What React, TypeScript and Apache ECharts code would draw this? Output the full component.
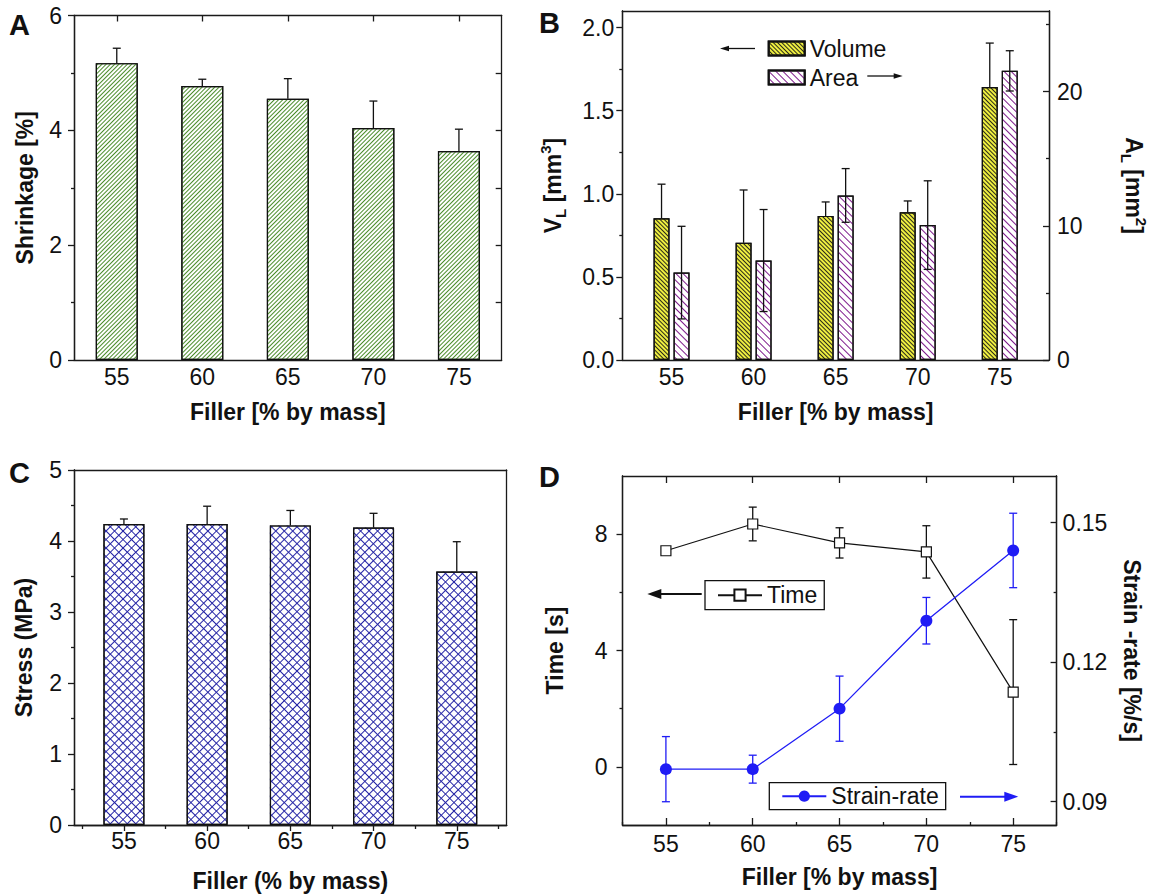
import React, { useEffect, useRef } from 'react';
import * as echarts from 'echarts';

// ---------- data ----------
const fillers = [55, 60, 65, 70, 75];
const shrinkage = [5.17, 4.77, 4.55, 4.04, 3.64];
const shrinkageErr = [0.26, 0.12, 0.35, 0.47, 0.38];
const volume = [0.853, 0.705, 0.867, 0.889, 1.643];
const volumeErr = [0.205, 0.318, 0.084, 0.068, 0.264];
const area = [6.51, 7.41, 12.26, 10.05, 21.54];
const areaErr = [3.45, 3.8, 2.0, 3.3, 1.5];
const stress = [4.24, 4.24, 4.22, 4.19, 3.57];
const stressErr = [0.07, 0.25, 0.21, 0.2, 0.42];
const time = [7.43, 8.35, 7.7, 7.39, 2.57];
const timeErr = [0.1, 0.58, 0.52, 0.9, 2.49];
const strainRate = [0.097, 0.097, 0.11, 0.1289, 0.144];
const strainErr = [0.007, 0.003, 0.007, 0.005, 0.008];

const minorX = [52.5, 57.5, 62.5, 67.5, 72.5, 77.5];
const ticksA = [0, 2, 4, 6];
const minorA = [1, 3, 5];
const rightA = [1, 2, 3, 4, 5];
const ticksBL = [0, 0.5, 1.0, 1.5, 2.0];
const minorBL = [0.25, 0.75, 1.25, 1.75];
const ticksBR = [0, 10, 20];
const minorBR = [5, 15, 25];
const ticksC = [0, 1, 2, 3, 4, 5];
const minorC = [0.5, 1.5, 2.5, 3.5, 4.5];
const ticksDL = [0, 4, 8];
const minorDL = [2, 6];
const ticksDR = [0.09, 0.12, 0.15];
const minorDR = [0.105, 0.135];

const AX = '#1a1a1a';
const FONT = "'Liberation Sans', Arial, sans-serif";
const LBL = 23;
const TITLE = 23;

type AxOpt = {
  grid: number; pos: string; min: number; max: number;
  ticks?: number[]; labels?: number[]; len?: number; inside?: boolean;
  fmt?: (v: number) => string; margin?: number; line?: boolean;
  name?: string; gap?: number; rotate?: number; rich?: any;
};

function axis(o: AxOpt): any {
  return {
    type: 'value', gridIndex: o.grid, position: o.pos, min: o.min, max: o.max,
    axisLine: { show: o.line !== false, onZero: false, lineStyle: { color: AX, width: 1.3 } },
    axisTick: { show: !!o.ticks, customValues: o.ticks, inside: !!o.inside, length: o.len ?? 6, lineStyle: { color: AX, width: 1.3 } },
    axisLabel: {
      show: !!o.labels, customValues: o.labels, formatter: o.fmt ?? ((v: number) => String(v)),
      fontSize: LBL, color: '#111', fontFamily: FONT, margin: o.margin ?? 8,
    },
    splitLine: { show: false }, minorTick: { show: false }, minorSplitLine: { show: false },
    name: o.name, nameLocation: 'middle', nameGap: o.gap, nameRotate: o.rotate,
    nameTextStyle: { fontSize: TITLE, fontWeight: 'bold', color: '#111', fontFamily: FONT, rich: o.rich },
  };
}

function errBars(id: string, xi: number, yi: number, vals: number[], errs: number[], both: boolean, color: string, offset: number, z: number): any {
  return {
    type: 'custom', name: id, xAxisIndex: xi, yAxisIndex: yi, z,
    data: fillers.map((f, i) => [f, both ? vals[i] - errs[i] : vals[i], vals[i] + errs[i]]),
    encode: { x: 0, y: [1, 2] },
    renderItem: (_p: any, api: any) => {
      const x = api.value(0);
      const lo = api.coord([x, api.value(1)]);
      const hi = api.coord([x, api.value(2)]);
      const cx = lo[0] + offset;
      const st = { stroke: color, lineWidth: 1.3 };
      const ch: any[] = [
        { type: 'line', shape: { x1: cx, y1: lo[1], x2: cx, y2: hi[1] }, style: st },
        { type: 'line', shape: { x1: cx - 4, y1: hi[1], x2: cx + 4, y2: hi[1] }, style: st },
      ];
      if (both) ch.push({ type: 'line', shape: { x1: cx - 4, y1: lo[1], x2: cx + 4, y2: lo[1] }, style: st });
      return { type: 'group', children: ch };
    },
  };
}

const hatch = (color: string, gap: number, rot: number, thick = 1) => ({
  symbol: 'rect', symbolSize: 1, dashArrayX: [1, 0], dashArrayY: [thick, gap], rotation: rot, color,
});

function arrow(x1: number, x2: number, y: number, color: string, w: number, hl: number, hw: number): any[] {
  // arrow head at x2
  const dir = x2 > x1 ? 1 : -1;
  return [
    { type: 'line', shape: { x1, y1: y, x2: x2 - dir * hl * 0.8, y2: y }, style: { stroke: color, lineWidth: w } },
    { type: 'polygon', shape: { points: [[x2, y], [x2 - dir * hl, y - hw], [x2 - dir * hl, y + hw]] }, style: { fill: color } },
  ];
}

export default function App() {
  const ref = useRef<HTMLDivElement>(null);
  useEffect(() => {
    document.body.style.margin = '0';
    const chart = echarts.init(ref.current!, null, { renderer: 'svg' });
    const grids = [
      { left: 74, top: 15.5, width: 427.7, height: 344.5 },
      { left: 622.3, top: 11, width: 426.7, height: 349 },
      { left: 74, top: 470, width: 432.7, height: 355 },
      { left: 622.5, top: 476, width: 434.1, height: 349 },
    ].map((g) => ({ ...g, outerBoundsMode: 'none', containLabel: false, show: false }));

    const xAxis = [
      // A
      axis({ grid: 0, pos: 'bottom', min: 52.5, max: 77.5, labels: fillers, margin: 5, name: 'Filler [% by mass]', gap: 40 }),
      axis({ grid: 0, pos: 'top', min: 52.5, max: 77.5, ticks: fillers, inside: true }),
      // B
      axis({ grid: 1, pos: 'bottom', min: 52, max: 78, labels: fillers, margin: 5, name: 'Filler [% by mass]', gap: 40 }),
      axis({ grid: 1, pos: 'top', min: 52, max: 78 }),
      // C
      axis({ grid: 2, pos: 'bottom', min: 52, max: 78, labels: fillers, ticks: fillers, len: 6, margin: 4, name: 'Filler (% by mass)', gap: 44 }),
      axis({ grid: 2, pos: 'top', min: 52, max: 78 }),
      axis({ grid: 2, pos: 'bottom', min: 52, max: 78, ticks: minorX, len: 4 }),
      // D
      axis({ grid: 3, pos: 'bottom', min: 52.5, max: 77.5, labels: fillers, ticks: fillers, inside: true, len: 7, margin: 7, name: 'Filler [% by mass]', gap: 40 }),
      axis({ grid: 3, pos: 'top', min: 52.5, max: 77.5, ticks: fillers, inside: true, len: 7 }),
      axis({ grid: 3, pos: 'bottom', min: 52.5, max: 77.5, ticks: minorX, inside: true, len: 3 }),
    ];

    const rich = {
      b: { fontSize: TITLE, fontWeight: 'bold', fontFamily: FONT, color: '#111', lineHeight: 30 },
      sub: { fontSize: 15, fontWeight: 'bold', fontFamily: FONT, color: '#111', lineHeight: 16, verticalAlign: 'bottom' },
      sup: { fontSize: 15, fontWeight: 'bold', fontFamily: FONT, color: '#111', lineHeight: 16, verticalAlign: 'top' },
    };

    const yAxis = [
      // A: 0,1,2
      axis({ grid: 0, pos: 'left', min: 0, max: 6, ticks: ticksA, labels: ticksA, margin: 12, name: 'Shrinkage [%]', gap: 38, rotate: 90 }),
      axis({ grid: 0, pos: 'left', min: 0, max: 6, ticks: minorA, len: 3 }),
      axis({ grid: 0, pos: 'right', min: 0, max: 6, ticks: rightA, inside: true }),
      // B: 3,4,5,6
      axis({
        grid: 1, pos: 'left', min: 0, max: 2.1, ticks: ticksBL, labels: ticksBL, margin: 8, fmt: (v) => v.toFixed(1),
        name: '{b|V}{sub|L}{b| [mm}{sup|3}{b|]}', gap: 54, rotate: 90, rich,
      }),
      axis({ grid: 1, pos: 'left', min: 0, max: 2.1, ticks: minorBL, len: 3 }),
      axis({
        grid: 1, pos: 'right', min: 0, max: 26, ticks: ticksBR, labels: ticksBR, inside: true, margin: 8,
        name: '{b|A}{sub|L}{b| [mm}{sup|2}{b|]}', gap: 70, rotate: -90, rich,
      }),
      axis({ grid: 1, pos: 'right', min: 0, max: 26, ticks: minorBR, inside: true, len: 3 }),
      // C: 7,8,9
      axis({ grid: 2, pos: 'left', min: 0, max: 5, ticks: ticksC, labels: ticksC, margin: 12, name: 'Stress (MPa)', gap: 39, rotate: 90 }),
      axis({ grid: 2, pos: 'left', min: 0, max: 5, ticks: minorC, len: 3 }),
      axis({ grid: 2, pos: 'right', min: 0, max: 5 }),
      // D: 10,11,12,13
      axis({ grid: 3, pos: 'left', min: -2, max: 10, ticks: ticksDL, labels: ticksDL, margin: 15, name: 'Time [s]', gap: 56, rotate: 90 }),
      axis({ grid: 3, pos: 'left', min: -2, max: 10, ticks: minorDL, len: 3 }),
      axis({ grid: 3, pos: 'right', min: 0.085, max: 0.16, ticks: ticksDR, labels: ticksDR, inside: true, margin: 6, fmt: (v) => v.toFixed(2), name: 'Strain -rate [%/s]', gap: 64, rotate: -90 }),
      axis({ grid: 3, pos: 'right', min: 0.085, max: 0.16, ticks: minorDR, inside: true, len: 3 }),
    ];

    const border = { borderColor: '#111', borderWidth: 1.2 };

    const series: any[] = [
      // A
      {
        type: 'bar', name: 'Shrinkage', xAxisIndex: 0, yAxisIndex: 0, barWidth: 42,
        data: fillers.map((f, i) => [f, shrinkage[i]]),
        itemStyle: { color: '#ffffff', ...border, decal: hatch('#4a8c2a', 2, -Math.PI / 4) },
      },
      errBars('errA', 0, 0, shrinkage, shrinkageErr, false, '#111', 0, 5),
      // B
      {
        type: 'bar', name: 'Volume', xAxisIndex: 2, yAxisIndex: 3, barWidth: 16, barGap: '25%',
        data: fillers.map((f, i) => [f, volume[i]]),
        itemStyle: { color: '#eeee40', ...border, decal: hatch('#2a2a18', 2, Math.PI / 4) },
      },
      {
        type: 'bar', name: 'Area', xAxisIndex: 2, yAxisIndex: 5, barWidth: 16, barGap: '25%',
        data: fillers.map((f, i) => [f, area[i]]),
        itemStyle: { color: '#ffffff', ...border, decal: hatch('#7e1a8c', 4, Math.PI / 4) },
      },
      errBars('errV', 2, 3, volume, volumeErr, false, '#111', -10, 5),
      errBars('errAr', 2, 5, area, areaErr, true, '#111', 10, 5),
      // C
      {
        type: 'bar', name: 'Stress1', xAxisIndex: 4, yAxisIndex: 7, barWidth: 41, barGap: '-100%',
        data: fillers.map((f, i) => [f, stress[i]]),
        itemStyle: { color: '#ffffff', decal: hatch('#2626a6', 5, Math.PI / 4) },
      },
      {
        type: 'bar', name: 'Stress2', xAxisIndex: 4, yAxisIndex: 7, barWidth: 41, barGap: '-100%',
        data: fillers.map((f, i) => [f, stress[i]]),
        itemStyle: { color: 'rgba(255,255,255,0)', ...border, decal: hatch('#2626a6', 5, -Math.PI / 4) },
      },
      errBars('errS', 4, 7, stress, stressErr, false, '#111', 0, 5),
      // D
      errBars('errT', 7, 10, time, timeErr, true, '#111', 0, 3),
      errBars('errR', 7, 12, strainRate, strainErr, true, '#1f1cf5', 0, 3),
      {
        type: 'line', name: 'Time', xAxisIndex: 7, yAxisIndex: 10, z: 6,
        data: fillers.map((f, i) => [f, time[i]]),
        symbol: 'rect', symbolSize: 10,
        itemStyle: { color: '#ffffff', borderColor: '#111', borderWidth: 1.2 },
        lineStyle: { color: '#111', width: 1.2 },
      },
      {
        type: 'line', name: 'Strain-rate', xAxisIndex: 7, yAxisIndex: 12, z: 6,
        data: fillers.map((f, i) => [f, strainRate[i]]),
        symbol: 'circle', symbolSize: 12,
        itemStyle: { color: '#1f1cf5', borderWidth: 0 },
        lineStyle: { color: '#1f1cf5', width: 1.3 },
      },
    ];

    const legendText = { fontSize: LBL, color: '#111', fontFamily: FONT };
    const legend = [
      {
        data: ['Volume', 'Area'], orient: 'vertical', left: 767.7, top: 37, padding: 0,
        itemWidth: 36, itemHeight: 14, itemGap: 6, itemTextGap: 8, icon: 'rect', selectedMode: false,
        textStyle: { ...legendText, lineHeight: 18 },
      },
      {
        data: ['Time'], left: 705, top: 580.7, padding: [3, 7, 3, 12],
        itemWidth: 44, itemHeight: 14, itemTextGap: 9, selectedMode: false,
        borderColor: '#111', borderWidth: 1.3, borderRadius: 0,
        textStyle: { ...legendText, lineHeight: 22 },
      },
      {
        data: ['Strain-rate'], left: 769.3, top: 782.7, padding: [2, 7, 2, 12],
        itemWidth: 44, itemHeight: 14, itemTextGap: 7, selectedMode: false,
        borderColor: '#111', borderWidth: 1.3, borderRadius: 0,
        textStyle: { ...legendText, lineHeight: 22 },
      },
    ];

    const letter = (t: string, x: number, y: number) => ({
      type: 'text', left: x, top: y,
      style: { text: t, fontSize: 29, fontWeight: 'bold', fontFamily: FONT, fill: '#111' },
    });

    const graphic = [
      letter('A', 9, 10),
      letter('B', 539, 8),
      letter('C', 9, 458),
      letter('D', 539, 462),
      ...arrow(755, 720, 48.5, '#111', 1.3, 9, 2.8),
      ...arrow(867.3, 902.7, 76, '#111', 1.3, 9, 2.8),
      ...arrow(701.7, 647.3, 594, '#111', 2, 14, 5),
      ...arrow(960, 1018.3, 796.7, '#1f1cf5', 2, 14, 5),
    ];

    chart.setOption({
      animation: false,
      backgroundColor: '#ffffff',
      textStyle: { fontFamily: FONT },
      grid: grids,
      xAxis, yAxis, series, legend, graphic,
    });
    return () => chart.dispose();
  }, []);
  return <div ref={ref} style={{ width: 1150, height: 895 }} />;
}
